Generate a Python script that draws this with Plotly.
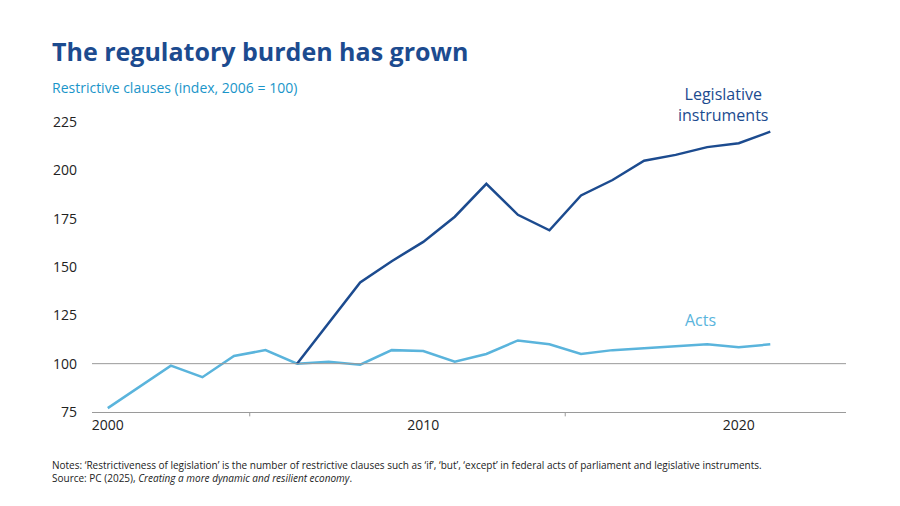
import plotly.graph_objects as go

years = list(range(2000, 2022))
acts = [77, 88, 99, 93, 104, 107, 100, 101, 99.5, 107, 106.5, 101, 105, 112, 110, 105, 107, 108, 109, 110, 108.5, 110]
leg_years = list(range(2006, 2022))
legislative = [100, 121, 142, 153, 163, 176, 193, 177, 169, 187, 195, 205, 208, 212, 214, 220]

dark = "#1c4b8f"
light = "#5ab4dc"
font = "Open Sans"

fig = go.Figure()
fig.add_hline(y=100, line=dict(color="#9a9a9a", width=1))
fig.add_trace(go.Scatter(x=years, y=acts, mode="lines", line=dict(color=light, width=2.5), showlegend=False))
fig.add_trace(go.Scatter(x=leg_years, y=legislative, mode="lines", line=dict(color=dark, width=2.5), showlegend=False))

fig.update_layout(
    width=900, height=506, plot_bgcolor="white", paper_bgcolor="white",
    margin=dict(l=84, r=62, t=114, b=102),
    font=dict(family=font, size=14, color="#222"),
    xaxis=dict(range=[1999.5, 2023.4], tickvals=[2000, 2010, 2020], showgrid=False, zeroline=False,
               showline=True, linecolor="#9a9a9a", ticks="", tickfont=dict(size=14)),
    yaxis=dict(range=[75, 225], tickvals=[75, 100, 125, 150, 175, 200, 225], showgrid=False, zeroline=False,
               ticks="", ticklabelstandoff=14, tickfont=dict(size=14)),
)
for xv in [2004.5, 2014.5]:
    fig.add_shape(type="line", x0=xv, x1=xv, y0=0, y1=-0.015, xref="x", yref="paper", line=dict(color="#9a9a9a", width=1))

fig.add_annotation(text="<b>The regulatory burden has grown</b>", xref="paper", yref="paper",
                   x=-42/756, y=(413-52)/290, xanchor="left", yanchor="middle", showarrow=False,
                   font=dict(size=25, color=dark))
fig.add_annotation(text="Restrictive clauses (index, 2006 = 100)", xref="paper", yref="paper",
                   x=-42/756, y=(413-88)/290, xanchor="left", yanchor="middle", showarrow=False,
                   font=dict(size=14, color="#1a95c9"))
fig.add_annotation(text="Legislative<br>instruments", x=2019.5, y=222, yanchor="bottom", xanchor="center",
                   showarrow=False, font=dict(size=16, color=dark))
fig.add_annotation(text="Acts", x=2018.8, y=116, yanchor="bottom", xanchor="center",
                   showarrow=False, font=dict(size=16, color=light))
fig.add_annotation(text="Notes: ‘Restrictiveness of legislation’ is the number of restrictive clauses such as ‘if’, ‘but’, ‘except’ in federal acts of parliament and legislative instruments.<br>Source: PC (2025), <i>Creating a more dynamic and resilient economy</i>.",
                   xref="paper", yref="paper", x=-42/756, y=(413-472)/290, xanchor="left", yanchor="middle",
                   align="left", showarrow=False, font=dict(size=10, color="#222"))
fig.write_html("out.html")
